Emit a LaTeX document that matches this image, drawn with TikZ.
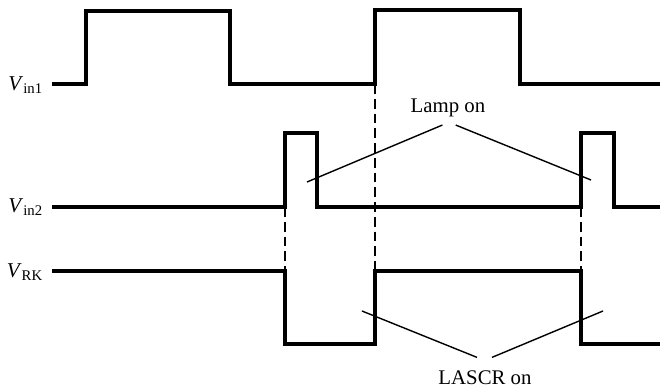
\documentclass[tikz,border=0pt]{standalone}
\usepackage{fontspec}
\setmainfont{Liberation Serif}
\usetikzlibrary{positioning}
\tikzset{
  every picture/.style={x=0.025cm, y=-0.025cm},
  wave/.style={line width=2.5pt, line join=miter},
  guide/.style={line width=1.3pt, dash pattern=on 7pt off 3.5pt},
  pointer/.style={line width=1pt},
  sig/.style={font=\fontsize{15}{18}\selectfont, anchor=east, inner sep=2pt},
  note/.style={font=\fontsize{14.8}{18}\selectfont, inner sep=2pt},
}

\begin{document}
\begin{tikzpicture}
  \useasboundingbox (0,0) rectangle (660,389);
  \node[sig] (vin1) at (46,85) {\textit{V}\textsubscript{in1}};
  \node[sig] (vin2) at (46,207) {\textit{V}\textsubscript{in2}};
  \node[sig] (vrk) at (46,272) {\textit{V}\textsubscript{RK}};
  \draw[wave] (52,84) -- (86,84) -- (86,11) -- (230,11) -- (230,84) -- (375,84) coordinate (a1) -- (375,10) -- (520,10) -- (520,84) -- (660,84);
  \draw[wave] (52,207) -- (285,207) coordinate (b1) -- (285,133) -- (317,133) -- (317,207) -- (581,207) coordinate (b2) -- (581,133) -- (614,133) -- (614,207) -- (660,207);
  \draw[wave] (52,271) -- (285,271) coordinate (c1) -- (285,344) -- (375,344) -- (375,271) coordinate (c2) -- (581,271) coordinate (c3) -- (581,344) -- (660,344);
  \draw[guide] (a1) -- (c2);
  \draw[guide] (b1) -- (c1);
  \draw[guide] (b2) -- (c3);
  \node[note] (lamp) at (448,108) {Lamp on};
  \coordinate (lampL) at (307,182);
  \coordinate (lampR) at (591,180);
  \draw[pointer] ([xshift=-4pt,yshift=-3.5pt]lamp.south) -- (lampL);
  \draw[pointer] ([xshift=5.5pt,yshift=-3.5pt]lamp.south) -- (lampR);
  \node[note] (lascr) at (485,378) {LASCR on};
  \coordinate (lascrL) at (362,311);
  \coordinate (lascrR) at (603,311);
  \draw[pointer] ([xshift=-5.7pt,yshift=7.5pt]lascr.north) -- (lascrL);
  \draw[pointer] ([xshift=5pt,yshift=7.5pt]lascr.north) -- (lascrR);
\end{tikzpicture}
\end{document}
